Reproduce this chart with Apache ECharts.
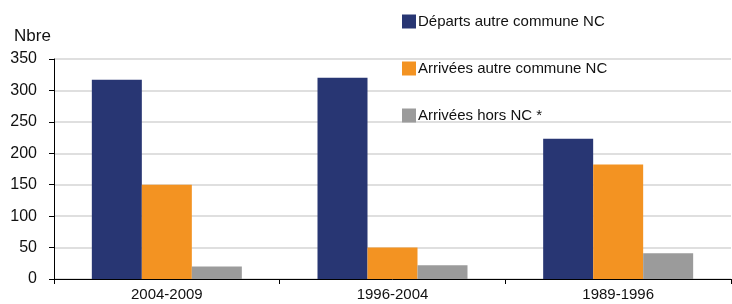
<!DOCTYPE html>
<html>
<head>
<meta charset="utf-8">
<script src="https://cdn.jsdelivr.net/npm/echarts@6/dist/echarts.min.js"></script>
<style>
  html, body { margin: 0; padding: 0; background: #fff; }
  #chart { width: 732px; height: 304px; }
</style>
</head>
<body>
<div id="chart"></div>
<script>
// périodes et valeurs
var periodes = ['2004-2009', '1996-2004', '1989-1996'];
var departsAutre = [317, 320, 223];
var arriveesAutre = [150, 50, 182];
var arriveesHors = [20, 22, 41];
var yTicks = [0, 50, 100, 150, 200, 250, 300, 350];

var font = '"Liberation Sans Narrow", "Arial Narrow", "Liberation Sans", sans-serif';

var chart = echarts.init(document.getElementById('chart'));

var option = {
  animation: false,
  textStyle: { fontFamily: font },
  grid: { left: 54, right: 1, top: 59, bottom: 25, containLabel: false },
  legend: {
    orient: 'vertical',
    left: 402,
    top: 14,
    padding: 0,
    itemWidth: 14,
    itemHeight: 14,
    itemGap: 32,
    icon: 'rect',
    textStyle: { fontFamily: font, fontSize: 15, color: '#111', padding: [0, 0, 0, -3] }
  },
  xAxis: {
    type: 'category',
    data: periodes,
    axisLine: { lineStyle: { color: '#000', width: 1 } },
    axisTick: { show: true, length: 5, lineStyle: { color: '#000' } },
    axisLabel: { fontFamily: font, fontSize: 15, color: '#111', margin: 8 }
  },
  yAxis: {
    type: 'value',
    name: 'Nbre',
    nameLocation: 'end',
    nameGap: 14,
    nameTextStyle: { fontFamily: font, fontSize: 17, color: '#111', align: 'left', padding: [0, 0, 0, -40] },
    min: yTicks[0],
    max: yTicks[yTicks.length - 1],
    interval: 50,
    axisLine: { show: true, lineStyle: { color: '#000', width: 1 } },
    axisTick: { show: true, length: 5, lineStyle: { color: '#000' } },
    axisLabel: { fontFamily: font, fontSize: 16, color: '#111', margin: 17 },
    splitLine: { lineStyle: { color: '#d4d4d4', width: 1.5 } }
  },
  series: [
    {
      name: 'Départs autre commune NC',
      type: 'bar',
      data: departsAutre,
      barWidth: 50,
      barGap: '0%',
      itemStyle: { color: '#283673' }
    },
    {
      name: 'Arrivées autre commune NC',
      type: 'bar',
      data: arriveesAutre,
      barWidth: 50,
      barGap: '0%',
      itemStyle: { color: '#f39322' }
    },
    {
      name: 'Arrivées hors NC *',
      type: 'bar',
      data: arriveesHors,
      barWidth: 50,
      barGap: '0%',
      itemStyle: { color: '#9b9b9b' }
    }
  ]
};

chart.setOption(option);
</script>
</body>
</html>
